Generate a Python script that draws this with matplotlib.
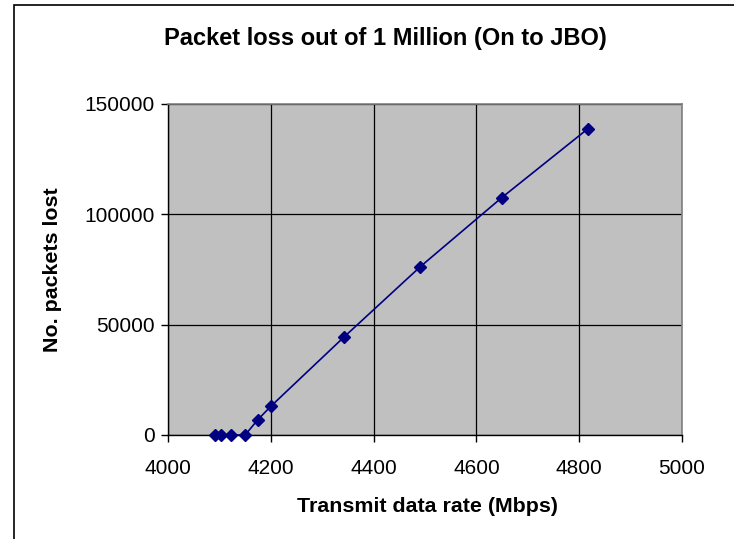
import matplotlib
matplotlib.use('Agg')
import matplotlib.pyplot as plt
from matplotlib.patches import Rectangle

plt.rcParams['font.family'] = ['Liberation Sans', 'DejaVu Sans']

# dados
taxa = [4091, 4103, 4122, 4150, 4175, 4200, 4342, 4491, 4649, 4817]
perdidos = [0, 0, 0, 0, 7000, 13000, 44300, 76300, 107500, 138800]

xticks = [4000, 4200, 4400, 4600, 4800, 5000]
yticks = [0, 50000, 100000, 150000]

W, H = 734, 539
fig = plt.figure(figsize=(W / 100, H / 100), dpi=100)
ax = fig.add_axes([168 / W, 1 - 435 / H, (682 - 168) / W, (435 - 104) / H])
ax.set_facecolor('#c0c0c0')

ax.plot(taxa, perdidos, '-', color='#000080', lw=1.2, marker='D', ms=6.5,
        mfc='#000080', mec='#000080', zorder=3, clip_on=False)

ax.set_xlim(4000, 5000)
ax.set_ylim(0, 150000)
ax.set_xticks(xticks)
ax.set_yticks(yticks)
ax.set_xticklabels([str(t) for t in xticks])
ax.set_yticklabels([str(t) for t in yticks])
ax.tick_params(direction='out', length=5, width=1, labelsize=15, colors='black', pad=4.5)
ax.tick_params(axis='x', pad=12)

ax.grid(True, color='black', lw=0.9)
ax.set_axisbelow(True)

for s in ['top', 'right']:
    ax.spines[s].set_color('#808080')
    ax.spines[s].set_linewidth(1.2)
for s in ['left', 'bottom']:
    ax.spines[s].set_color('black')
    ax.spines[s].set_linewidth(1)

fig.text(385 / W, 1 - 39 / H, 'Packet loss out of 1 Million (On to JBO)',
         ha='center', va='center', fontsize=17, fontweight='bold')
fig.text(428 / W, 1 - 506 / H, 'Transmit data rate (Mbps)',
         ha='center', va='center', fontsize=15.4, fontweight='bold')
fig.text(53 / W, 1 - 270 / H, 'No. packets lost', rotation=90,
         ha='center', va='center', fontsize=15.4, fontweight='bold')

# moldura do grafico
fig.patches.append(Rectangle((14 / W, -0.1), 1.2, 1 - 5 / H + 0.1,
                             transform=fig.transFigure, fill=False,
                             edgecolor='black', lw=1.2))

fig.savefig('out.png', dpi=100)
